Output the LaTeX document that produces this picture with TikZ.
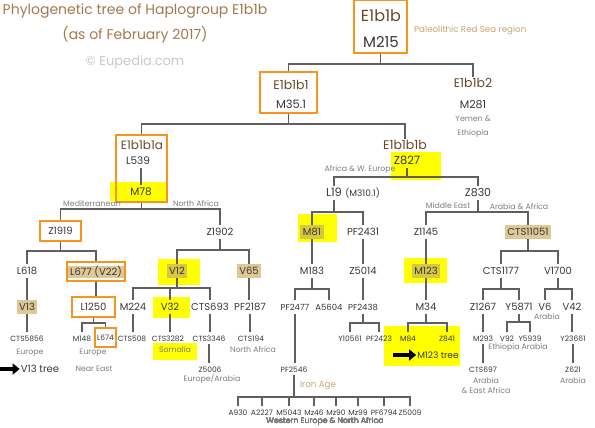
\documentclass[tikz,border=0pt]{standalone}
\usepackage{fontspec}
\setmainfont{Poppins}
\usepackage{tikz}
\usetikzlibrary{positioning,arrows.meta}
\definecolor{linegray}{RGB}{95,95,95}
\definecolor{labelgray}{RGB}{55,55,55}
\definecolor{regiongray}{RGB}{125,125,125}
\definecolor{copygray}{RGB}{200,200,200}
\definecolor{titlebrown}{RGB}{165,120,75}
\definecolor{hapbrown}{RGB}{105,72,40}
\definecolor{boxorange}{RGB}{247,148,30}
\definecolor{tannote}{RGB}{200,165,110}
\definecolor{tanhl}{RGB}{222,200,150}
\definecolor{olivehl}{RGB}{214,200,70}
\definecolor{hlyellow}{RGB}{255,255,0}
% elbow from a parent down to a bar, then across and down to a child
\newcommand{\branch}[3]{\draw[branchline] (#1.south) -- (#1.south |- 0,#2) -| (#3.north);}
% straight drop from a parent to a child
\newcommand{\stem}[2]{\draw[branchline] (#1.south) -- (#1.south |- #2.north);}

\begin{document}
\begin{tikzpicture}[x=1pt, y=-1pt,
  snp/.style={font=\fontsize{10}{11}\selectfont, text=labelgray, inner xsep=1pt, inner ysep=3.5pt, text height=7pt, text depth=0pt},
  snpsm/.style={snp, font=\fontsize{7.5}{9}\selectfont, text height=6pt, inner ysep=3pt},
  region/.style={font=\fontsize{7.8}{9}\selectfont, text=regiongray, inner sep=1pt},
  note/.style={font=\fontsize{8.7}{10}\selectfont, text=tannote, inner sep=1pt},
  hapname/.style={font=\fontsize{12.5}{14}\selectfont, text=hapbrown, inner sep=1pt},
  obox/.style={draw=boxorange, line width=1.4pt, inner sep=0pt},
  tanmark/.style={fill=tanhl, inner xsep=2.5pt},
  bothmark/.style={fill=olivehl, inner xsep=2.5pt},
  branchline/.style={draw=linegray, line width=1.3pt},
  bigarrow/.style={draw=black, line width=3.5pt, -{Triangle[length=7pt,width=11pt]}}]
\useasboundingbox (0,0) rectangle (595,428);

% yellow marks behind the text
\fill[hlyellow] (110,182) rectangle (168,201);
\fill[hlyellow] (391,152) rectangle (441,180);
\fill[hlyellow] (158,259) rectangle (200,285);
\fill[hlyellow] (153,297) rectangle (190,318);
\fill[hlyellow] (153,343) rectangle (197,360);
\fill[hlyellow] (298,214) rectangle (337,242);
\fill[hlyellow] (404,258) rectangle (447,283);
\fill[hlyellow] (384,326) rectangle (460,366);

% title
\node[font=\fontsize{14}{16}\selectfont, text=titlebrown] (title) at (135,11) {Phylogenetic tree of Haplogroup E1b1b};
\node[font=\fontsize{14}{16}\selectfont, text=titlebrown] (subtitle) at (135,35) {(as of February 2017)};
\node[font=\fontsize{13}{15}\selectfont, text=copygray] (copyright) at (135,62) {© Eupedia.com};

% top of the tree
\node[obox, minimum width=53pt, minimum height=53pt] (e1b1bbox) at (380.5,26.5) {};
\node[font=\fontsize{16}{18}\selectfont, text=hapbrown] (e1b1b) at (381,16) {E1b1b};
\node[font=\fontsize{15}{17}\selectfont, text=labelgray] (m215) at (381,42) {M215};
\node[note, anchor=west] (paleo) at (413,30) {Paleolithic Red Sea region};

\node[obox, minimum width=57pt, minimum height=41pt] (e1b1b1box) at (288.5,92.5) {};
\node[hapname] (e1b1b1) at (291,85) {E1b1b1};
\node[snp, font=\fontsize{11.5}{13}\selectfont] (m351) at (291,105) {M35.1};

\node[hapname] (e1b1b2) at (473,83) {E1b1b2};
\node[snp, font=\fontsize{11}{13}\selectfont] (m281) at (473,105) {M281};
\node[region] (yemen) at (473,119) {Yemen \&};
\node[region] (ethiopia) at (473,134) {Ethiopia};

\branch{e1b1bbox}{64}{e1b1b1box}
\branch{e1b1bbox}{64}{e1b1b2}

% E1b1b1a
\node[obox, minimum width=51pt, minimum height=67pt] (e1abox) at (141.5,168.5) {};
\node[hapname, font=\fontsize{12}{14}\selectfont] (e1b1b1a) at (142,145) {E1b1b1a};
\node[snp, font=\fontsize{10.5}{12}\selectfont] (l539) at (138,161) {L539};
\node[snp, font=\fontsize{10.5}{12}\selectfont] (m78) at (141,192) {M78};
\draw[branchline] (l539.south -| m78.north) -- (m78.north);

\node[hapname] (e1b1b1b) at (405,145) {E1b1b1b};
\node[snp, font=\fontsize{11.5}{13}\selectfont] (z827) at (407,161) {Z827};
\node[region] (afrweur) at (360,170) {Africa \& W. Europe};

\branch{e1b1b1box}{124}{e1abox}
\branch{e1b1b1box}{124}{e1b1b1b}

% M78 side
\node[region] (medit) at (92,204) {Mediterranean};
\node[region] (nafrica) at (196,204) {North Africa};
\node[obox, snp, minimum width=41pt, minimum height=20pt] (z1919) at (60.5,231) {Z1919};
\node[snp] (z1902) at (220,232) {Z1902};
\branch{e1abox}{209}{z1919}
\branch{e1abox}{209}{z1902}

\node[snp] (l618) at (27,271) {L618};
\node[obox, minimum width=58pt, minimum height=19pt] (l677) at (96,271.5) {};
\node[snp, tanmark, inner ysep=2.5pt] (l677txt) at (96,271.5) {L677 (V22)};
\branch{z1919}{251}{l618}
\branch{z1919}{251}{l677}

\node[snp, tanmark] (v13) at (27,307) {V13};
\node[obox, snp, minimum width=43pt, minimum height=20pt] (l1250) at (93.5,307) {L1250};
\stem{l618}{v13}
\stem{l677}{l1250}

\node[snpsm] (cts5856) at (27,338) {CTS5856};
\node[snpsm] (m148) at (82,338) {M148};
\node[obox, snpsm, inner xsep=0pt, minimum width=21pt, minimum height=19pt] (l674) at (105.5,337.5) {L674};
\stem{v13}{cts5856}
\branch{l1250}{323}{m148}
\branch{l1250}{323}{l674}
\node[region] (europe1) at (30,353) {Europe};
\node[region] (europe2) at (93,353) {Europe};
\node[region] (neareast) at (94,369) {Near East};

\node[font=\fontsize{10}{12}\selectfont, text=labelgray, inner sep=1pt] (v13tree) at (40,369) {V13 tree};
\coordinate (v13arr) at (0,369);
\draw[bigarrow] (v13arr) -- (v13tree.west);

\node[snp, bothmark] (v12) at (177,271) {V12};
\node[snp, tanmark] (v65) at (249,271) {V65};
\branch{z1902}{250}{v12}
\branch{z1902}{250}{v65}

\node[snp] (m224) at (133,307) {M224};
\node[snp] (v32) at (170,307) {V32};
\node[snp] (cts693) at (210,307) {CTS693};
\node[snp] (pf2187) at (250,307) {PF2187};
\branch{v12}{288}{m224}
\branch{v12}{288}{v32}
\branch{v12}{288}{cts693}
\stem{v65}{pf2187}

\node[snpsm] (cts508) at (132,338) {CTS508};
\node[snpsm] (cts3282) at (168,338) {CTS3282};
\node[snpsm] (cts3346) at (209,338) {CTS3346};
\node[snpsm] (cts194) at (251,338) {CTS194};
\stem{m224}{cts508}
\stem{v32}{cts3282}
\stem{cts693}{cts3346}
\stem{pf2187}{cts194}
\node[region] (somalia) at (175,350) {Somalia};
\node[region] (nafrica2) at (253,350) {North Africa};
\node[snpsm] (z5006) at (210,369) {Z5006};
\stem{cts3346}{z5006}
\node[region] (eurarab) at (212,379) {Europe/Arabia};

% Z827 side
\node[snp, font=\fontsize{11.5}{13}\selectfont] (l19) at (334,193) {L19};
\node[snpsm, font=\fontsize{9}{10}\selectfont, right=1pt of l19] (m3101) {(M310.1)};
\node[snp, font=\fontsize{11}{13}\selectfont] (z830) at (478,193) {Z830};
\branch{z827}{177}{l19}
\branch{z827}{177}{z830}
\node[region] (mideast) at (448,206) {Middle East};
\node[region] (arabafr) at (519,207) {Arabia \& Africa};

\node[snp, bothmark] (m81) at (312,232) {M81};
\node[snp] (pf2431) at (363,232) {PF2431};
\node[snp] (z1145) at (426,232) {Z1145};
\node[snp, tanmark] (cts11051) at (528,232) {CTS11051};
\branch{l19}{212}{m81}
\branch{l19}{212}{pf2431}
\branch{z830}{212}{z1145}
\branch{z830}{212}{cts11051}

\node[snp] (m183) at (312,271) {M183};
\node[snp] (z5014) at (363,271) {Z5014};
\node[snp, bothmark] (m123) at (426,271) {M123};
\node[snp] (cts1177) at (501,271) {CTS1177};
\node[snp] (v1700) at (558,271) {V1700};
\stem{m81}{m183}
\stem{pf2431}{z5014}
\stem{z1145}{m123}
\branch{cts11051}{251}{cts1177}
\branch{cts11051}{251}{v1700}

\node[snp, font=\fontsize{8.5}{10}\selectfont] (pf2477) at (295,307) {PF2477};
\node[snp, font=\fontsize{8.5}{10}\selectfont] (a5604) at (329,307) {A5604};
\node[snp, font=\fontsize{8.5}{10}\selectfont] (pf2438) at (363,307) {PF2438};
\node[snp] (m34) at (426,307) {M34};
\node[snp] (z1267) at (483,307) {Z1267};
\node[snp] (y5871) at (519,307) {Y5871};
\node[snp] (v6) at (545,307) {V6};
\node[snp] (v42) at (572,307) {V42};
\branch{m183}{289}{pf2477}
\branch{m183}{289}{a5604}
\stem{z5014}{pf2438}
\stem{m123}{m34}
\branch{cts1177}{289}{z1267}
\branch{cts1177}{289}{y5871}
\branch{v1700}{289}{v6}
\branch{v1700}{289}{v42}
\node[region] (arabia1) at (547,317) {Arabia};

\node[snpsm] (y10561) at (350,338) {Y10561};
\node[snpsm] (pf2423) at (379,338) {PF2423};
\node[snpsm] (m84) at (408,338) {M84};
\node[snpsm] (z841) at (447,338) {Z841};
\node[snpsm] (m293) at (483,338) {M293};
\node[snpsm] (v92) at (507,338) {V92};
\node[snpsm] (y5939) at (530,338) {Y5939};
\node[snpsm] (y23661) at (573,338) {Y23661};
\branch{pf2438}{323}{y10561}
\branch{pf2438}{323}{pf2423}
\branch{m34}{323}{m84}
\branch{m34}{323}{z841}
\stem{z1267}{m293}
\branch{y5871}{322}{v92}
\branch{y5871}{322}{y5939}
\stem{v42}{y23661}
\node[region] (ethar) at (518,348) {Ethiopia Arabia};

\node[font=\fontsize{9}{11}\selectfont, text=labelgray, inner sep=1pt] (m123tree) at (438,355) {M123 tree};
\coordinate (m123arr) at (393,355);
\draw[bigarrow] (m123arr) -- (m123tree.west);

\node[snpsm] (cts697) at (483,369) {CTS697};
\node[snpsm] (z621) at (573,369) {Z621};
\stem{m293}{cts697}
\stem{y23661}{z621}
\node[region] (arabia2) at (486,381) {Arabia};
\node[region] (eastafr) at (486,391) {\& East Africa};
\node[region] (arabia3) at (573,381) {Arabia};

% PF2546 and its sons
\node[snpsm] (pf2546) at (294,369) {PF2546};
\stem{pf2477}{pf2546}
\node[note] (ironage) at (318,386) {Iron Age};
\node[snpsm, font=\fontsize{7.5}{8}\selectfont] (a930) at (238,412) {A930};
\node[snpsm, font=\fontsize{7.5}{8}\selectfont] (a2227) at (262,412) {A2227};
\node[snpsm, font=\fontsize{7.5}{8}\selectfont] (m5043) at (289,412) {M5043};
\node[snpsm, font=\fontsize{7.5}{8}\selectfont] (mz46) at (314,412) {Mz46};
\node[snpsm, font=\fontsize{7.5}{8}\selectfont] (mz90) at (336,412) {Mz90};
\node[snpsm, font=\fontsize{7.5}{8}\selectfont] (mz99) at (358,412) {Mz99};
\node[snpsm, font=\fontsize{7.5}{8}\selectfont] (pf6794) at (384,412) {PF6794};
\node[snpsm, font=\fontsize{7.5}{8}\selectfont] (z5009) at (410,412) {Z5009};
\foreach \s in {a930,a2227,m5043,mz46,mz90,mz99,pf6794,z5009}
  \branch{pf2546}{397}{\s}
\node[region] (weurnafr) at (325,421.5) {Western Europe \& North Africa};
\end{tikzpicture}
\end{document}
